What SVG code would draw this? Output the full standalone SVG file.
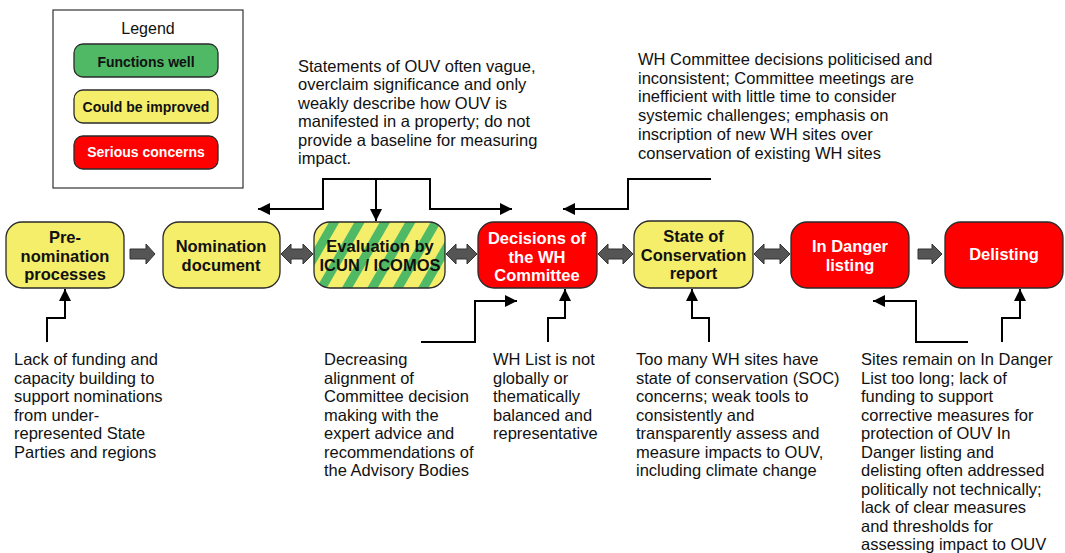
<svg xmlns="http://www.w3.org/2000/svg" width="1065" height="553" viewBox="0 0 1065 553">
<style>
.bg{fill:#fff}
.node{stroke:#2a2a2a;stroke-width:1.3}
.y{fill:#f5ee6b}
.g{fill:#4fb965}
.r{fill:#ff0000}
.nt{font-family:"Liberation Sans",Arial,sans-serif;font-weight:bold;font-size:16.5px;text-anchor:middle;fill:#111}
.lt{font-family:"Liberation Sans",Arial,sans-serif;font-weight:bold;font-size:14px;text-anchor:middle;fill:#111}
text.nw{fill:#ffffff}
.d{font-family:"Liberation Sans",Arial,sans-serif;font-size:16.5px;fill:#111}
.conn{fill:none;stroke:#000;stroke-width:2}
.blk{fill:#555;stroke:#333;stroke-width:1}
</style>
<defs>
<pattern id="stripes" patternUnits="userSpaceOnUse" width="22" height="22" patternTransform="rotate(30)">
<rect width="22" height="22" fill="#f5ee6b"/>
<rect width="9" height="22" fill="#4fb965"/>
</pattern>
<marker id="ah" markerUnits="userSpaceOnUse" markerWidth="12" markerHeight="12" viewBox="0 0 10 10" refX="10" refY="5" orient="auto">
<path d="M0,0 L10,5 L0,10 Z" fill="#000"/>
</marker>
</defs>
<rect class="bg" x="0" y="0" width="1065" height="553"/>

<g id="legend">
<rect x="53" y="10" width="190" height="178" fill="#fff" stroke="#333" stroke-width="1.2"/>
<text x="148" y="34" font-family="'Liberation Sans',Arial,sans-serif" font-size="16px" text-anchor="middle" fill="#111">Legend</text>
<rect class="node g" x="74" y="44" width="144" height="33" rx="9"/>
<text class="lt" x="146" y="67">Functions well</text>
<rect class="node y" x="74" y="90" width="144" height="33" rx="9"/>
<text class="lt" x="146" y="112">Could be improved</text>
<rect class="node r" x="74" y="136" width="144" height="33" rx="9"/>
<text class="lt nw" x="146" y="157">Serious concerns</text>
</g>

<g id="n-prenomination">
<rect class="node y" x="6" y="222" width="118" height="66" rx="16"/>
<text class="nt" x="65" y="243">Pre-</text>
<text class="nt" x="65" y="261.5">nomination</text>
<text class="nt" x="65" y="280">processes</text>
</g>
<g id="n-nomination">
<rect class="node y" x="163" y="222" width="117" height="66" rx="16"/>
<text class="nt" x="221" y="252">Nomination</text>
<text class="nt" x="221" y="270.5">document</text>
</g>
<g id="n-evaluation">
<rect class="node" fill="url(#stripes)" x="314" y="222" width="131" height="66" rx="16"/>
<text class="nt" x="380" y="252">Evaluation by</text>
<text class="nt" x="380" y="270.5">ICUN / ICOMOS</text>
</g>
<g id="n-decisions">
<rect class="node r" x="478" y="222" width="119" height="66" rx="16"/>
<text class="nt nw" x="537" y="244">Decisions of</text>
<text class="nt nw" x="537" y="262.5">the WH</text>
<text class="nt nw" x="537" y="281">Committee</text>
</g>
<g id="n-soc">
<rect class="node y" x="634" y="221" width="119" height="67" rx="16"/>
<text class="nt" x="693.5" y="242">State of</text>
<text class="nt" x="693.5" y="260.5">Conservation</text>
<text class="nt" x="693.5" y="279">report</text>
</g>
<g id="n-indanger">
<rect class="node r" x="791" y="222" width="118" height="66" rx="16"/>
<text class="nt nw" x="850" y="252">In Danger</text>
<text class="nt nw" x="850" y="270.5">listing</text>
</g>
<g id="n-delisting">
<rect class="node r" x="945" y="222" width="118" height="66" rx="16"/>
<text class="nt nw" x="1004" y="260">Delisting</text>
</g>

<g id="connectors">
<path class="blk" d="M130,249 H146 V244 L155,254 L146,264 V259 H130 Z"/>
<path class="blk" d="M281,254 L291,244 V249 H303 V244 L313,254 L303,264 V259 H291 V264 Z"/>
<path class="blk" d="M446,254 L456,244 V249 H467 V244 L477,254 L467,264 V259 H456 V264 Z"/>
<path class="blk" d="M598,254 L608,244 V249 H623 V244 L633,254 L623,264 V259 H608 V264 Z"/>
<path class="blk" d="M754,254 L764,244 V249 H780 V244 L790,254 L780,264 V259 H764 V264 Z"/>
<path class="blk" d="M918,249 H932 V244 L942,254 L932,264 V259 H918 Z"/>

<path class="conn" d="M376,179 V221" marker-end="url(#ah)"/>
<path class="conn" d="M376,179 H323 V209 H258" marker-end="url(#ah)"/>
<path class="conn" d="M376,179 H430 V209 H512" marker-end="url(#ah)"/>
<path class="conn" d="M711,179 H628 V209 H563" marker-end="url(#ah)"/>
<path class="conn" d="M47,342 V318 H65 V289" marker-end="url(#ah)"/>
<path class="conn" d="M421,342 H475 V301 H517" marker-end="url(#ah)"/>
<path class="conn" d="M548,342 V318 H565 V289" marker-end="url(#ah)"/>
<path class="conn" d="M709,342 V318 H692 V289" marker-end="url(#ah)"/>
<path class="conn" d="M968,342 H916 V301 H873" marker-end="url(#ah)"/>
<path class="conn" d="M1002,342 V318 H1020 V289" marker-end="url(#ah)"/>
</g>

<g id="t-ouv">
<text class="d" x="298" y="72">Statements of OUV often vague,</text>
<text class="d" x="298" y="90.4">overclaim significance and only</text>
<text class="d" x="298" y="108.8">weakly describe how OUV is</text>
<text class="d" x="298" y="127.2">manifested in a property; do not</text>
<text class="d" x="298" y="145.6">provide a baseline for measuring</text>
<text class="d" x="298" y="164">impact.</text>
</g>
<g id="t-committee">
<text class="d" x="638" y="65">WH Committee decisions politicised and</text>
<text class="d" x="638" y="83.7">inconsistent; Committee meetings are</text>
<text class="d" x="638" y="102.4">inefficient with little time to consider</text>
<text class="d" x="638" y="121.1">systemic challenges; emphasis on</text>
<text class="d" x="638" y="139.8">inscription of new WH sites over</text>
<text class="d" x="638" y="158.5">conservation of existing WH sites</text>
</g>
<g id="t-funding">
<text class="d" x="14" y="365">Lack of funding and</text>
<text class="d" x="14" y="383.5">capacity building to</text>
<text class="d" x="14" y="402">support nominations</text>
<text class="d" x="14" y="420.5">from under-</text>
<text class="d" x="14" y="439">represented State</text>
<text class="d" x="14" y="457.5">Parties and regions</text>
</g>
<g id="t-alignment">
<text class="d" x="324" y="365">Decreasing</text>
<text class="d" x="324" y="383.5">alignment of</text>
<text class="d" x="324" y="402">Committee decision</text>
<text class="d" x="324" y="420.5">making with the</text>
<text class="d" x="324" y="439">expert advice and</text>
<text class="d" x="324" y="457.5">recommendations of</text>
<text class="d" x="324" y="476">the Advisory Bodies</text>
</g>
<g id="t-list">
<text class="d" x="493" y="365">WH List is not</text>
<text class="d" x="493" y="383.5">globally or</text>
<text class="d" x="493" y="402">thematically</text>
<text class="d" x="493" y="420.5">balanced and</text>
<text class="d" x="493" y="439">representative</text>
</g>
<g id="t-soc">
<text class="d" x="636" y="365">Too many WH sites have</text>
<text class="d" x="636" y="383.5">state of conservation (SOC)</text>
<text class="d" x="636" y="402">concerns; weak tools to</text>
<text class="d" x="636" y="420.5">consistently and</text>
<text class="d" x="636" y="439">transparently assess and</text>
<text class="d" x="636" y="457.5">measure impacts to OUV,</text>
<text class="d" x="636" y="476">including climate change</text>
</g>
<g id="t-danger">
<text class="d" x="861" y="365">Sites remain on In Danger</text>
<text class="d" x="861" y="383.5">List too long; lack of</text>
<text class="d" x="861" y="402">funding to support</text>
<text class="d" x="861" y="420.5">corrective measures for</text>
<text class="d" x="861" y="439">protection of OUV In</text>
<text class="d" x="861" y="457.5">Danger listing and</text>
<text class="d" x="861" y="476">delisting often addressed</text>
<text class="d" x="861" y="494.5">politically not technically;</text>
<text class="d" x="861" y="513">lack of clear measures</text>
<text class="d" x="861" y="531.5">and thresholds for</text>
<text class="d" x="861" y="550">assessing impact to OUV</text>
</g>
</svg>
